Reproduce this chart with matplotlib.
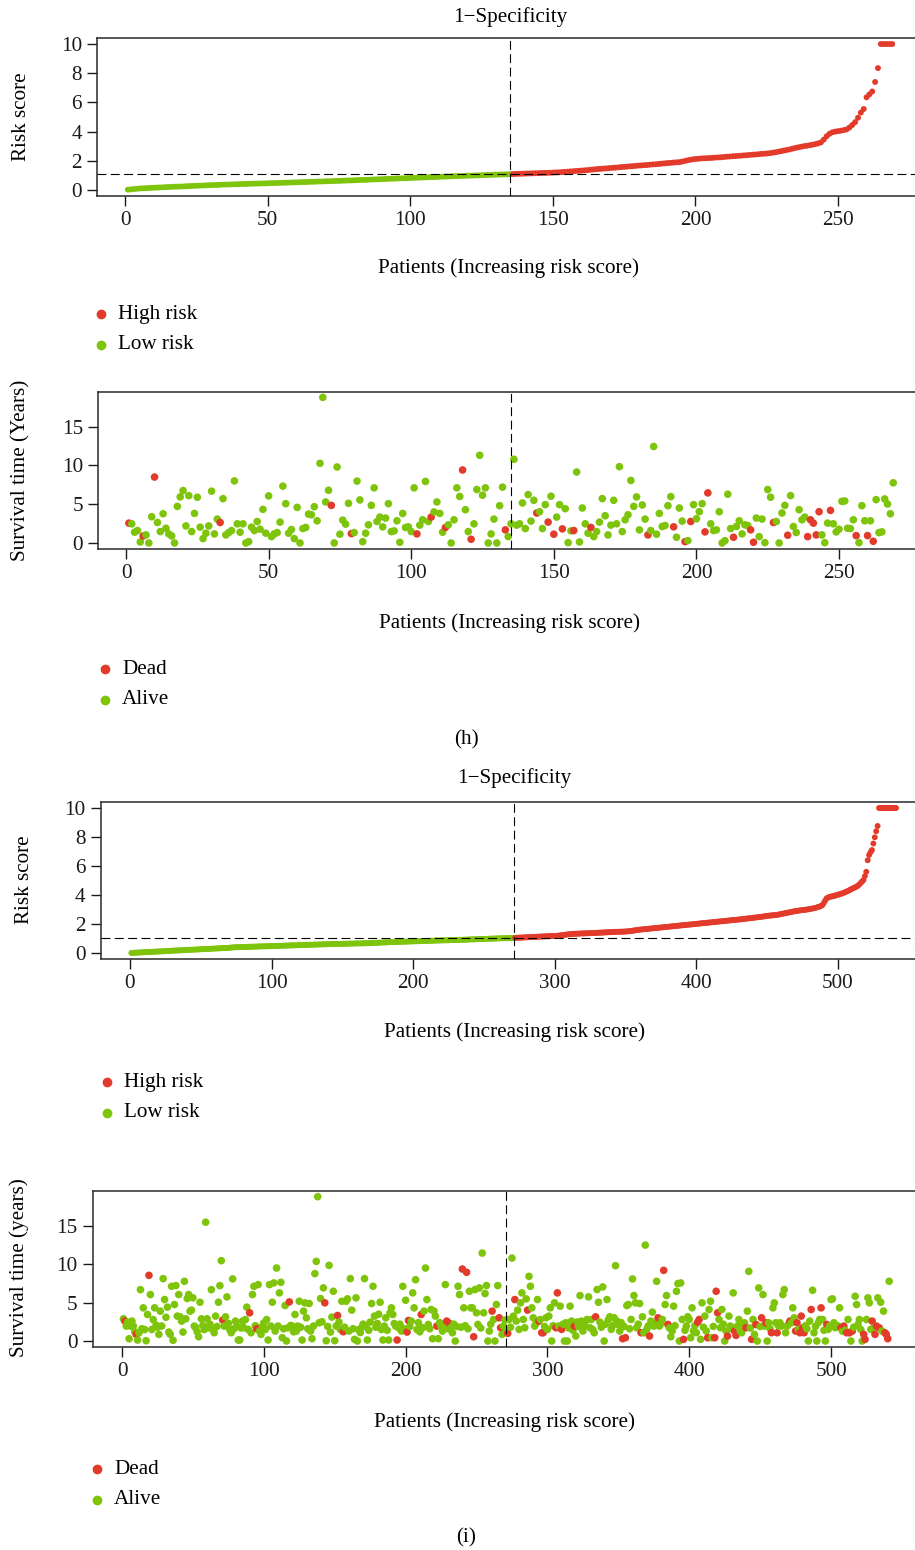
import numpy as np
import matplotlib
matplotlib.use('Agg')
import matplotlib.pyplot as plt
from matplotlib.lines import Line2D

plt.rcParams['font.family'] = ['Liberation Serif', 'DejaVu Serif']
plt.rcParams['font.size'] = 15.2

RED = '#E33B2B'
GREEN = '#7DC40B'

# ---- (h) risk score, sorted (low risk / high risk group)
risk_h_low = [
    0.02, 0.04, 0.06, 0.08, 0.10, 0.11, 0.12, 0.13, 0.14, 0.15, 0.16, 0.17, 0.18, 0.19, 0.20,
    0.21, 0.22, 0.23, 0.23, 0.24, 0.25, 0.26, 0.27, 0.28, 0.29, 0.30, 0.30, 0.31, 0.32, 0.33,
    0.34, 0.34, 0.35, 0.36, 0.37, 0.37, 0.38, 0.39, 0.39, 0.40, 0.41, 0.41, 0.42, 0.43, 0.43,
    0.44, 0.44, 0.45, 0.45, 0.46, 0.47, 0.47, 0.48, 0.48, 0.49, 0.50, 0.50, 0.51, 0.52, 0.52,
    0.53, 0.54, 0.54, 0.55, 0.56, 0.56, 0.57, 0.58, 0.58, 0.59, 0.60, 0.60, 0.61, 0.62, 0.62,
    0.63, 0.64, 0.65, 0.65, 0.66, 0.67, 0.68, 0.69, 0.69, 0.70, 0.71, 0.72, 0.73, 0.73, 0.74,
    0.75, 0.76, 0.77, 0.77, 0.78, 0.79, 0.80, 0.80, 0.81, 0.82, 0.83, 0.84, 0.84, 0.85, 0.86,
    0.87, 0.88, 0.88, 0.89, 0.90, 0.91, 0.92, 0.92, 0.93, 0.94, 0.95, 0.95, 0.96, 0.97, 0.98,
    0.98, 0.99, 1.00, 1.00, 1.01, 1.02, 1.03, 1.03, 1.04, 1.05, 1.05, 1.06, 1.07, 1.07, 1.08]
risk_h_high = [
    1.09, 1.10, 1.11, 1.11, 1.12, 1.13, 1.13, 1.14, 1.15, 1.15, 1.16, 1.17, 1.17, 1.18, 1.19,
    1.20, 1.21, 1.22, 1.24, 1.25, 1.27, 1.28, 1.30, 1.31, 1.33, 1.34, 1.36, 1.38, 1.40, 1.42,
    1.44, 1.45, 1.47, 1.48, 1.50, 1.52, 1.53, 1.55, 1.57, 1.58, 1.60, 1.62, 1.63, 1.65, 1.67,
    1.68, 1.70, 1.71, 1.73, 1.75, 1.76, 1.78, 1.80, 1.82, 1.84, 1.85, 1.87, 1.89, 1.90, 1.93,
    1.97, 2.02, 2.06, 2.10, 2.12, 2.14, 2.16, 2.17, 2.18, 2.19, 2.20, 2.22, 2.23, 2.24, 2.26,
    2.28, 2.29, 2.31, 2.32, 2.34, 2.35, 2.37, 2.38, 2.40, 2.42, 2.43, 2.45, 2.47, 2.48, 2.50,
    2.52, 2.55, 2.58, 2.62, 2.66, 2.70, 2.74, 2.78, 2.83, 2.88, 2.92, 2.96, 3.00, 3.03, 3.06,
    3.10, 3.14, 3.19, 3.26, 3.45, 3.68, 3.85, 3.95, 4.00, 4.03, 4.06, 4.10, 4.15, 4.28, 4.45,
    4.65, 4.95, 5.30, 5.55, 6.35, 6.55, 6.75, 7.40, 8.35, 10, 10, 10, 10, 10]
cut_h = 1.09

# ---- (h) survival time (years) per patient, and the patients that died
surv_h = [
    2.56, 2.47, 1.39, 1.6, 0.13, 0.9, 1.04, 0.0, 3.38, 8.5, 2.64, 1.47, 3.77, 1.9, 1.17, 0.91, 0.0, 4.72, 5.94, 6.76,
    2.2, 6.1, 1.47, 3.81, 5.9, 2.04, 0.56, 1.26, 2.2, 6.68, 1.17, 3.08, 2.64, 5.72, 1.04, 1.34, 1.6, 8.0, 2.47, 1.39,
    2.47, 0.0, 0.17, 2.04, 1.6, 2.77, 1.78, 4.33, 1.26, 6.07, 0.82, 1.17, 1.34, 2.69, 7.33, 5.07, 1.26, 1.73, 0.56, 4.59,
    0.0, 1.86, 2.0, 3.73, 3.64, 4.68, 2.86, 10.27, 18.77, 5.29, 6.8, 4.85, 0.0, 9.8, 1.13, 2.95, 2.43, 5.11, 1.21, 1.34,
    7.98, 5.55, 0.17, 1.26, 2.34, 4.85, 7.11, 2.77, 3.34, 2.08, 3.21, 5.07, 1.47, 1.56, 2.86, 0.09, 3.81, 2.0, 2.08, 1.47,
    7.11, 1.17, 2.3, 2.99, 7.93, 2.77, 3.34, 4.0, 5.29, 3.81, 1.39, 2.0, 2.34, 0.0, 2.99, 7.11, 6.0, 9.41, 4.29, 1.47,
    0.48, 2.47, 6.89, 11.31, 6.16, 7.11, 0.0, 1.17, 3.08, 0.0, 4.81, 7.2, 1.69, 0.82, 2.47, 10.79, 2.3, 2.47, 5.16, 1.86,
    6.24, 2.82, 5.5, 3.86, 4.03, 1.86, 4.94, 2.69, 6.03, 1.13, 3.34, 4.94, 1.82, 4.42, 0.04, 1.56, 1.6, 9.15, 0.13, 4.51,
    2.47, 1.26, 2.0, 0.82, 1.47, 2.69, 5.72, 3.51, 1.04, 2.3, 5.5, 2.47, 9.84, 1.47, 2.99, 3.64, 8.06, 4.72, 5.94, 1.69,
    4.9, 3.08, 1.04, 1.6, 12.44, 1.13, 3.81, 2.12, 2.25, 4.81, 5.98, 2.08, 0.74, 4.51, 2.82, 0.17, 0.3, 2.77, 4.94, 3.12,
    4.03, 5.07, 1.43, 6.46, 2.47, 1.6, 1.69, 4.03, 0.0, 0.3, 6.29, 1.86, 0.74, 2.12, 2.86, 1.17, 2.34, 2.25, 1.69, 0.09,
    3.21, 0.82, 3.08, 0.04, 6.89, 5.9, 2.64, 2.77, 0.0, 3.86, 4.85, 1.0, 6.11, 2.12, 1.34, 4.29, 2.99, 3.34, 0.82, 2.99,
    2.56, 1.04, 4.03, 1.04, 0.04, 2.56, 4.2, 2.47, 1.43, 1.78, 5.37, 5.42, 1.9, 1.86, 2.99, 0.95, 0.04, 4.81, 2.86, 0.95,
    2.86, 0.22, 5.59, 1.34, 1.43, 5.68, 5.03, 3.77, 7.76]
dead_h = [1, 6, 10, 33, 72, 79, 102, 107, 112, 118, 121, 133, 144, 148, 150, 153, 157, 163,
          183, 192, 196, 198, 203, 204, 213, 219, 220, 227, 232, 239, 240, 241, 242, 243,
          247, 256, 260, 262]

# ---- (i) risk score, sorted
risk_i_low = [
    0.00, 0.01, 0.02, 0.02, 0.03, 0.03, 0.04, 0.04, 0.05, 0.05, 0.06, 0.06, 0.07, 0.07, 0.08, 0.08, 0.09, 0.09, 0.10, 0.10,
    0.11, 0.11, 0.12, 0.12, 0.13, 0.14, 0.14, 0.15, 0.15, 0.16, 0.16, 0.17, 0.17, 0.18, 0.18, 0.19, 0.19, 0.20, 0.20, 0.21,
    0.21, 0.22, 0.22, 0.23, 0.23, 0.24, 0.24, 0.25, 0.25, 0.26, 0.26, 0.27, 0.27, 0.28, 0.28, 0.29, 0.29, 0.30, 0.30, 0.31,
    0.31, 0.32, 0.32, 0.33, 0.33, 0.34, 0.34, 0.35, 0.35, 0.36, 0.37, 0.38, 0.39, 0.39, 0.40, 0.40, 0.40, 0.41, 0.41, 0.41,
    0.42, 0.42, 0.42, 0.43, 0.43, 0.43, 0.44, 0.44, 0.44, 0.45, 0.45, 0.45, 0.46, 0.46, 0.46, 0.46, 0.47, 0.47, 0.47, 0.48,
    0.48, 0.48, 0.49, 0.49, 0.49, 0.50, 0.50, 0.50, 0.51, 0.51, 0.51, 0.52, 0.52, 0.52, 0.53, 0.53, 0.53, 0.54, 0.54, 0.54,
    0.55, 0.55, 0.55, 0.56, 0.56, 0.56, 0.57, 0.57, 0.57, 0.58, 0.58, 0.58, 0.59, 0.59, 0.59, 0.60, 0.60, 0.60, 0.61, 0.61,
    0.61, 0.61, 0.62, 0.62, 0.62, 0.62, 0.63, 0.63, 0.63, 0.63, 0.64, 0.64, 0.64, 0.64, 0.65, 0.65, 0.65, 0.65, 0.66, 0.66,
    0.66, 0.66, 0.66, 0.67, 0.67, 0.67, 0.67, 0.68, 0.68, 0.69, 0.69, 0.70, 0.70, 0.70, 0.71, 0.71, 0.72, 0.72, 0.73, 0.73,
    0.73, 0.74, 0.74, 0.75, 0.75, 0.75, 0.76, 0.76, 0.77, 0.77, 0.77, 0.78, 0.78, 0.78, 0.79, 0.79, 0.79, 0.80, 0.80, 0.80,
    0.81, 0.81, 0.81, 0.82, 0.82, 0.82, 0.83, 0.83, 0.83, 0.84, 0.84, 0.84, 0.85, 0.85, 0.85, 0.86, 0.86, 0.86, 0.86, 0.87,
    0.87, 0.87, 0.88, 0.88, 0.88, 0.89, 0.89, 0.89, 0.89, 0.90, 0.90, 0.90, 0.91, 0.91, 0.91, 0.92, 0.92, 0.92, 0.93, 0.93,
    0.94, 0.94, 0.94, 0.95, 0.95, 0.96, 0.96, 0.96, 0.97, 0.97, 0.97, 0.98, 0.98, 0.99, 0.99, 0.99, 1.00, 1.00, 1.00, 1.01,
    1.01, 1.01, 1.02, 1.02, 1.02, 1.02, 1.03, 1.03, 1.03, 1.03, 1.04]
risk_i_high = [
    1.04, 1.05, 1.05, 1.06, 1.06, 1.07, 1.07, 1.08, 1.08, 1.09, 1.09, 1.10, 1.10, 1.11, 1.11, 1.12, 1.12, 1.13, 1.13, 1.14,
    1.14, 1.15, 1.15, 1.16, 1.16, 1.16, 1.17, 1.17, 1.17, 1.18, 1.19, 1.20, 1.22, 1.23, 1.24, 1.25, 1.27, 1.28, 1.29, 1.30,
    1.31, 1.32, 1.32, 1.33, 1.33, 1.34, 1.34, 1.35, 1.35, 1.35, 1.36, 1.36, 1.36, 1.37, 1.37, 1.38, 1.38, 1.39, 1.39, 1.40,
    1.40, 1.41, 1.41, 1.42, 1.42, 1.43, 1.43, 1.44, 1.44, 1.45, 1.45, 1.46, 1.46, 1.46, 1.47, 1.47, 1.47, 1.48, 1.48, 1.49,
    1.50, 1.51, 1.52, 1.54, 1.55, 1.57, 1.58, 1.60, 1.61, 1.62, 1.63, 1.64, 1.65, 1.66, 1.67, 1.68, 1.69, 1.70, 1.71, 1.72,
    1.73, 1.74, 1.75, 1.76, 1.77, 1.78, 1.79, 1.80, 1.81, 1.82, 1.83, 1.84, 1.85, 1.86, 1.87, 1.88, 1.89, 1.90, 1.91, 1.92,
    1.93, 1.94, 1.95, 1.96, 1.97, 1.98, 1.99, 2.00, 2.01, 2.02, 2.03, 2.04, 2.05, 2.06, 2.07, 2.08, 2.09, 2.10, 2.11, 2.12,
    2.13, 2.14, 2.15, 2.16, 2.17, 2.18, 2.19, 2.20, 2.21, 2.22, 2.23, 2.24, 2.25, 2.26, 2.27, 2.28, 2.29, 2.30, 2.31, 2.32,
    2.33, 2.34, 2.35, 2.37, 2.38, 2.39, 2.40, 2.42, 2.43, 2.44, 2.45, 2.46, 2.48, 2.49, 2.50, 2.51, 2.53, 2.54, 2.56, 2.57,
    2.58, 2.59, 2.60, 2.61, 2.62, 2.63, 2.65, 2.67, 2.69, 2.71, 2.73, 2.75, 2.77, 2.79, 2.81, 2.83, 2.85, 2.87, 2.89, 2.90,
    2.92, 2.93, 2.95, 2.96, 2.97, 2.98, 3.00, 3.01, 3.03, 3.05, 3.07, 3.09, 3.11, 3.14, 3.17, 3.20, 3.24, 3.30, 3.45, 3.62,
    3.77, 3.82, 3.86, 3.89, 3.91, 3.93, 3.96, 3.99, 4.02, 4.05, 4.08, 4.11, 4.15, 4.19, 4.23, 4.28, 4.33, 4.38, 4.43, 4.48,
    4.53, 4.57, 4.63, 4.72, 4.82, 4.93, 5.03, 5.30, 5.60, 6.40, 6.76, 6.95, 7.10, 7.55, 7.98, 8.40, 8.76, 10, 10, 10,
    10, 10, 10, 10, 10, 10, 10, 10, 10, 10]
cut_i = 1.06

# ---- (i) survival time (years) per patient, and the patients that died
surv_i = [
    2.9, 2.6, 1.95, 2.47, 0.3, 1.95, 2.6, 1.95, 1.2, 0.87, 0.13, 1.08, 6.7, 1.6, 4.33, 1.5, 0.04, 3.46, 8.57, 6.06,
    1.5, 2.8, 4.33, 2.08, 1.8, 0.87, 3.9, 1.95, 8.14, 5.41, 3.1, 4.42, 1.17, 0.87, 7.14, 0.09, 4.76, 7.23, 3.25, 6.06,
    3.16, 2.6, 1.17, 7.79, 2.9, 5.54, 6.06, 3.9, 4.03, 5.63, 1.95, 1.73, 1.2, 0.56, 5.06, 2.9, 2.03, 1.5, 15.5, 2.9,
    1.73, 2.2, 6.7, 1.5, 1.08, 3.25, 1.9, 5.06, 7.23, 10.48, 2.73, 1.95, 3.16, 5.76, 2.3, 1.5, 1.08, 8.1, 1.6, 2.6,
    1.95, 0.13, 0.13, 1.7, 2.6, 1.73, 2.8, 4.42, 1.5, 3.68, 1.08, 6.06, 7.14, 2.0, 1.6, 7.36, 1.3, 0.87, 1.9, 2.38,
    1.5, 2.8, 0.13, 7.36, 1.95, 5.06, 7.58, 1.3, 9.52, 1.95, 6.28, 7.66, 0.43, 1.6, 4.63, 0.0, 1.73, 5.1, 2.03, 1.95,
    1.2, 3.46, 1.3, 1.95, 5.19, 1.8, 0.13, 3.9, 4.98, 3.03, 1.6, 4.89, 1.3, 0.3, 1.95, 8.79, 10.39, 18.83, 2.38, 5.54,
    2.51, 6.93, 4.98, 0.04, 1.9, 9.87, 1.17, 3.12, 6.49, 0.04, 1.95, 3.33, 2.47, 1.5, 5.19, 1.21, 1.8, 5.19, 5.5, 1.3,
    8.14, 4.03, 1.6, 0.22, 5.63, 0.0, 1.5, 1.1, 1.73, 2.2, 8.14, 1.95, 0.13, 1.4, 2.47, 4.89, 7.14, 3.25, 1.8, 2.29,
    3.5, 5.06, 1.5, 0.13, 1.95, 3.03, 1.4, 0.13, 3.68, 4.33, 3.46, 2.29, 1.95, 0.13, 1.73, 2.2, 1.3, 7.14, 1.6, 5.32,
    1.17, 2.68, 1.9, 2.6, 6.28, 4.33, 8.0, 1.5, 2.4, 1.2, 3.46, 1.73, 3.9, 9.52, 5.41, 2.16, 1.6, 4.11, 0.3, 3.9,
    3.25, 1.95, 0.3, 2.4, 1.95, 1.3, 2.0, 7.36, 2.6, 1.6, 2.29, 1.73, 1.08, 2.2, 0.0, 1.9, 7.14, 6.06, 1.8, 9.39,
    4.33, 2.0, 8.96, 1.6, 6.49, 4.33, 4.33, 0.56, 6.71, 3.68, 2.16, 6.93, 1.7, 11.47, 3.68, 6.19, 7.23, 0.0, 1.3, 2.2,
    3.9, 2.81, 0.0, 4.76, 7.23, 3.03, 1.73, 0.87, 1.95, 2.73, 1.6, 1.0, 2.81, 1.8, 10.82, 3.25, 5.41, 2.6, 4.03, 1.52,
    4.98, 6.28, 2.81, 1.73, 5.5, 4.03, 8.44, 7.14, 4.33, 3.03, 1.95, 2.3, 5.41, 2.6, 2.81, 1.08, 1.08, 1.9, 3.03, 1.5,
    3.25, 4.33, 0.0, 2.0, 4.98, 1.73, 6.28, 1.95, 4.55, 1.52, 2.2, 0.0, 2.38, 0.0, 1.7, 4.55, 2.6, 1.4, 1.95, 0.65,
    2.47, 1.9, 5.93, 2.6, 1.3, 1.95, 2.6, 2.81, 5.76, 1.73, 2.81, 1.5, 1.08, 3.16, 6.71, 5.06, 2.47, 1.8, 7.06, 0.0,
    2.2, 5.41, 2.81, 3.16, 1.52, 2.0, 3.03, 9.83, 2.6, 2.16, 1.3, 2.4, 0.3, 1.9, 0.43, 4.63, 4.76, 1.6, 2.81, 8.1,
    5.93, 4.98, 1.73, 2.2, 4.89, 1.08, 3.16, 1.08, 12.51, 1.5, 1.95, 0.65, 2.6, 3.77, 1.95, 2.3, 7.79, 3.03, 1.95, 2.29,
    2.81, 9.22, 4.76, 5.93, 2.16, 1.7, 0.56, 1.3, 4.55, 2.0, 6.49, 7.49, 0.0, 7.58, 2.81, 0.22, 1.4, 1.95, 3.16, 2.81,
    0.43, 4.33, 1.3, 2.0, 1.08, 2.47, 2.81, 0.22, 4.98, 1.8, 3.25, 1.3, 0.43, 4.11, 5.19, 0.43, 1.9, 0.43, 6.49, 3.68,
    2.81, 1.73, 4.11, 2.2, 0.0, 1.3, 0.65, 3.25, 1.95, 1.6, 6.28, 1.3, 0.74, 1.95, 2.81, 1.3, 1.08, 2.2, 2.38, 1.73,
    3.9, 9.09, 1.7, 0.22, 2.81, 0.87, 2.16, 0.0, 6.93, 1.9, 3.03, 6.06, 1.95, 2.38, 0.0, 2.38, 1.6, 1.08, 4.33, 4.98,
    2.38, 1.08, 2.0, 2.38, 1.95, 6.06, 6.71, 1.08, 1.95, 2.2, 2.6, 2.38, 4.33, 3.03, 1.3, 2.38, 1.5, 1.08, 3.25, 1.73,
    1.08, 2.0, 1.6, 0.0, 2.6, 4.11, 6.62, 1.08, 1.9, 0.0, 2.38, 2.81, 4.33, 2.81, 1.4, 0.0, 2.16, 1.52, 1.95, 5.41,
    5.5, 2.38, 1.73, 2.0, 1.95, 4.33, 1.73, 1.3, 1.95, 1.4, 1.08, 2.81, 1.08, 0.0, 1.3, 1.8, 5.84, 4.76, 2.16, 2.81,
    1.5, 0.0, 0.87, 0.22, 2.81, 5.63, 4.98, 1.52, 2.6, 1.7, 0.87, 1.95, 5.63, 1.73, 5.06, 1.3, 3.9, 1.08, 0.87, 0.3, 7.79]
dead_i = [2, 10, 19, 71, 90, 95, 118, 143, 152, 156, 194, 201, 202, 211, 222, 229, 231, 240,
          243, 248, 261, 266, 267, 272, 277, 286, 294, 296, 297, 306, 307, 310, 319, 334,
          353, 355, 366, 372, 378, 382, 385, 396, 406, 407, 413, 418, 419, 420, 427, 432,
          433, 440, 444, 447, 451, 454, 458, 462, 471, 475, 476, 478, 479, 480, 481, 486,
          493, 497, 507, 509, 511, 513, 515, 523, 524, 529, 531, 532, 534, 538, 539, 540]

W, H = 915, 1550
fig = plt.figure(figsize=(W / 100, H / 100), dpi=100)


def fx(x):
    return x / W


def fy(y):
    return 1 - y / H


def axes_px(l, t, r, b):
    return fig.add_axes([l / W, 1 - b / H, (r - l) / W, (b - t) / H])


def style(ax, n, xticks, yticks, ylim):
    pad = 0.04 * (n - 1)
    ax.set_xlim(1 - pad, n + pad)
    ax.set_ylim(*ylim)
    ax.set_xticks(xticks)
    ax.set_yticks(yticks)
    for s in ax.spines.values():
        s.set_linewidth(1.1)
        s.set_color('#2a2a2a')
    ax.tick_params(direction='out', length=7, width=1.0, pad=4, colors='#1a1a1a')


def dashed(ax, v=None, h=None):
    kw = dict(color='black', lw=0.8, ls=(0, (8, 4)), zorder=3)
    if v is not None:
        ax.axvline(v, **kw)
    if h is not None:
        ax.axhline(h, **kw)


def risk_panel(ax, low, high, cut, xticks):
    score = np.array(low + high)
    n = len(score)
    idx = np.arange(1, n + 1)
    cols = [GREEN] * len(low) + [RED] * len(high)
    ax.scatter(idx, score, s=18, c=cols, linewidths=0, zorder=2)
    dashed(ax, v=len(low), h=cut)
    style(ax, n, xticks, [0, 2, 4, 6, 8, 10], (-0.4, 10.4))


def surv_panel(ax, surv, dead, nlow, xticks):
    surv = np.array(surv)
    n = len(surv)
    idx = np.arange(1, n + 1)
    dead_set = set(dead)
    cols = [RED if i in dead_set else GREEN for i in idx]
    ax.scatter(idx, surv, s=30, c=cols, linewidths=0, zorder=2)
    dashed(ax, v=nlow)
    top = surv.max()
    style(ax, n, xticks, [0, 5, 10, 15], (-0.04 * top, 1.04 * top))


def legend_px(x, y0, labels, colors, dy=30.5, tx=17):
    for k, (lab, col) in enumerate(zip(labels, colors)):
        y = y0 + k * dy
        fig.add_artist(Line2D([fx(x)], [fy(y)], marker='o', ms=6, color=col, mec=col,
                              ls='none', transform=fig.transFigure))
        fig.text(fx(x + tx), fy(y), lab, va='center', ha='left')


xt_h = [0, 50, 100, 150, 200, 250]
xt_i = [0, 100, 200, 300, 400, 500]

# (h) risk score
ax1 = axes_px(97.3, 38.2, 922.8, 195.8)
risk_panel(ax1, risk_h_low, risk_h_high, cut_h, xt_h)
fig.text(fx(510), fy(17), '1\u2212Specificity', ha='center', va='center')
fig.text(fx(508), fy(268), 'Patients (Increasing risk score)', ha='center', va='center')
fig.text(fx(22), fy(117), 'Risk score', ha='center', va='center', rotation=90)
legend_px(101, 314, ['High risk', 'Low risk'], [RED, GREEN])

# (h) survival
ax2 = axes_px(98.3, 391.6, 923.8, 548.8)
surv_panel(ax2, surv_h, dead_h, len(risk_h_low), xt_h)
fig.text(fx(509), fy(623), 'Patients (Increasing risk score)', ha='center', va='center')
fig.text(fx(21), fy(470), 'Survival time (Years)', ha='center', va='center', rotation=90)
legend_px(105, 669, ['Dead', 'Alive'], [RED, GREEN])
fig.text(fx(466), fy(740), '(h)', ha='center', va='center')

# (i) risk score
ax3 = axes_px(100.8, 802.2, 926.6, 958.8)
risk_panel(ax3, risk_i_low, risk_i_high, cut_i, xt_i)
fig.text(fx(514), fy(778), '1\u2212Specificity', ha='center', va='center')
fig.text(fx(514), fy(1032), 'Patients (Increasing risk score)', ha='center', va='center')
fig.text(fx(25), fy(880), 'Risk score', ha='center', va='center', rotation=90)
legend_px(107, 1082, ['High risk', 'Low risk'], [RED, GREEN])

# (i) survival
ax4 = axes_px(92.8, 1190.9, 919.8, 1346.8)
surv_panel(ax4, surv_i, dead_i, len(risk_i_low), xt_i)
fig.text(fx(505), fy(1422), 'Patients (Increasing risk score)', ha='center', va='center')
fig.text(fx(19), fy(1268), 'Survival time (years)', ha='center', va='center', rotation=90)
legend_px(97, 1469, ['Dead', 'Alive'], [RED, GREEN])
fig.text(fx(466), fy(1538), '(i)', ha='center', va='center')

fig.savefig('out.png', dpi=100)
